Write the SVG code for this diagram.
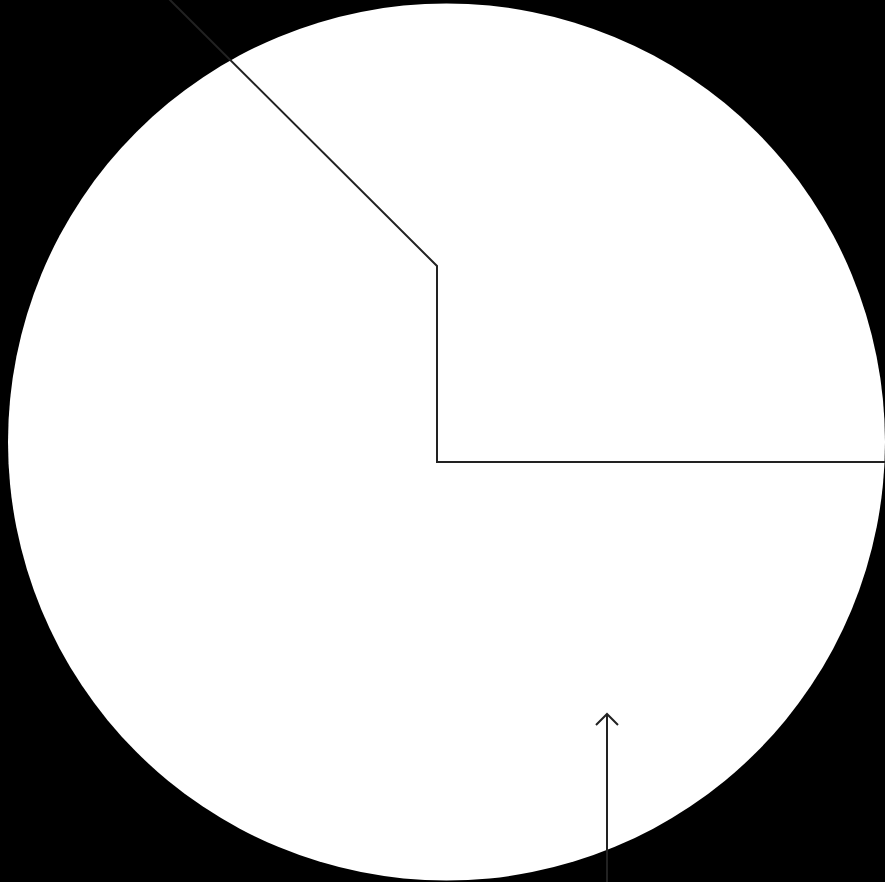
<svg xmlns="http://www.w3.org/2000/svg" width="885" height="882" viewBox="0 0 885 882">
<style>
.conn{fill:none;stroke:#222;stroke-width:2;stroke-linejoin:miter}
</style>
<defs>
<marker id="arr" viewBox="0 0 24 24" refX="12" refY="12" markerWidth="24" markerHeight="24" markerUnits="userSpaceOnUse" orient="auto">
<path d="M1,1 L12,12 L1,23" fill="none" stroke="#222" stroke-width="2"/>
</marker>
</defs>
<rect x="0" y="0" width="885" height="882" fill="#000"/>
<g id="disc">
<circle cx="446.5" cy="442" r="438.5" fill="#fff"/>
</g>
<g id="connectors">
<path class="conn" d="M169,-1 L437,266 L437,462 L886,462"/>
<path class="conn" d="M607,883 L607,714" marker-end="url(#arr)"/>
</g>
</svg>
